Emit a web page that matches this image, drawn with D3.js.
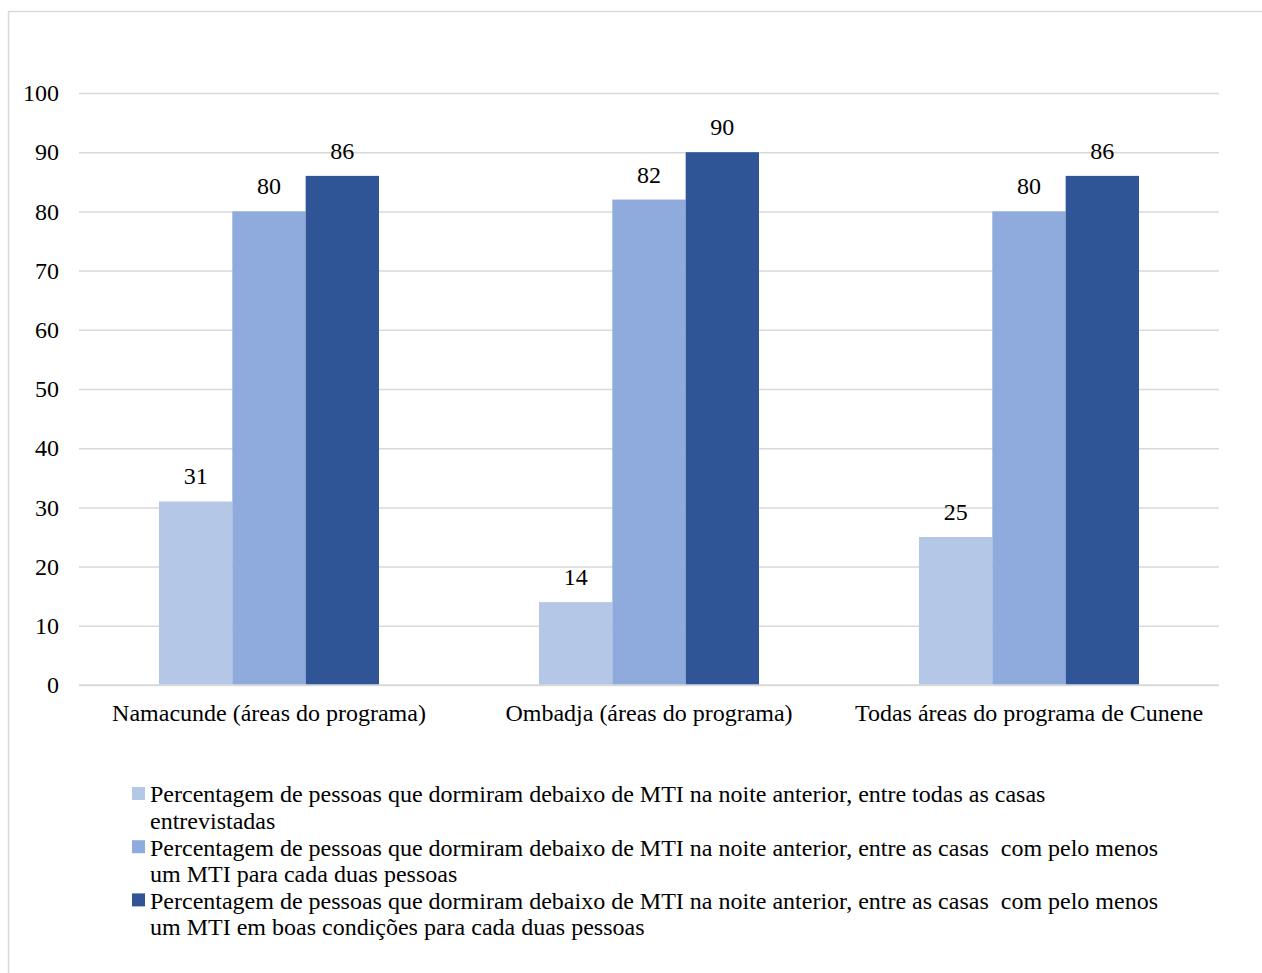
<!DOCTYPE html>
<html>
<head>
<meta charset="utf-8">
<script src="https://cdn.jsdelivr.net/npm/d3@7"></script>
<style>
  html, body { margin: 0; padding: 0; background: #fff; }
  svg { display: block; }
  text { font-family: "Liberation Serif", "Times New Roman", serif; fill: #000; }
</style>
</head>
<body>
<svg id="chart" width="1262" height="973"></svg>
<script>
// Areas (categories) and the three survey indicators
const categories = [
  "Namacunde (áreas do programa)",
  "Ombadja (áreas do programa)",
  "Todas áreas do programa de Cunene"
];
const allHouses = [31, 14, 25];
const onePerTwo = [80, 82, 80];
const goodPerTwo = [86, 90, 86];
const yTicks = [0, 10, 20, 30, 40, 50, 60, 70, 80, 90, 100];
const seriesNames = [
  ["Percentagem de pessoas que dormiram debaixo de MTI na noite anterior, entre todas as casas",
   "entrevistadas"],
  ["Percentagem de pessoas que dormiram debaixo de MTI na noite anterior, entre as casas  com pelo menos",
   "um MTI para cada duas pessoas"],
  ["Percentagem de pessoas que dormiram debaixo de MTI na noite anterior, entre as casas  com pelo menos",
   "um MTI em boas condições para cada duas pessoas"]
];
const colors = ["#b4c7e7", "#8faadc", "#2f5597"];

const series = [allHouses, onePerTwo, goodPerTwo];
const fontSize = 24;
const svg = d3.select("#chart");

// outer chart frame
svg.append("rect")
  .attr("x", 8.5).attr("y", 11.5)
  .attr("width", 1270).attr("height", 980)
  .attr("fill", "none").attr("stroke", "#d9d9d9").attr("stroke-width", 1.5);

const plotLeft = 79, plotRight = 1219, plotTop = 93, plotBottom = 685;

const x0 = d3.scaleBand().domain(categories).range([plotLeft, plotRight]).paddingInner(0).paddingOuter(0);
const x1 = d3.scaleBand().domain(d3.range(series.length))
  .range([80, x0.bandwidth() - 80]);
const y = d3.scaleLinear().domain([0, 100]).range([plotBottom, plotTop]);

// horizontal gridlines + y tick labels
const yAxis = d3.axisLeft(y).tickValues(yTicks).tickSize(-(plotRight - plotLeft)).tickPadding(20);
const gy = svg.append("g").attr("transform", `translate(${plotLeft},0)`).call(yAxis);
gy.select(".domain").remove();
gy.selectAll(".tick line").attr("stroke", "#d9d9d9").attr("stroke-width", 1.5);
gy.selectAll(".tick text")
  .attr("font-family", "Liberation Serif, serif")
  .attr("font-size", fontSize).attr("fill", "#000").attr("x", -20);

// bars
const groups = svg.append("g").selectAll("g")
  .data(categories)
  .join("g")
  .attr("transform", d => `translate(${x0(d)},0)`);

groups.selectAll("rect")
  .data((d, i) => series.map((s, k) => ({ k, v: s[i] })))
  .join("rect")
  .attr("x", d => x1(d.k))
  .attr("width", x1.bandwidth())
  .attr("y", d => y(d.v))
  .attr("height", d => y(0) - y(d.v))
  .attr("fill", d => colors[d.k]);

groups.selectAll("text.val")
  .data((d, i) => series.map((s, k) => ({ k, v: s[i] })))
  .join("text")
  .attr("class", "val")
  .attr("x", d => x1(d.k) + x1.bandwidth() / 2)
  .attr("y", d => y(d.v) - 17)
  .attr("text-anchor", "middle")
  .attr("font-size", fontSize)
  .text(d => d.v);

// baseline
svg.append("line")
  .attr("x1", plotLeft).attr("x2", plotRight)
  .attr("y1", y(0)).attr("y2", y(0))
  .attr("stroke", "#d9d9d9").attr("stroke-width", 1.5);

// category labels
const xAxis = d3.axisBottom(x0).tickSize(0).tickPadding(19);
const gx = svg.append("g").attr("transform", `translate(0,${plotBottom})`).call(xAxis);
gx.select(".domain").remove();
gx.selectAll(".tick text")
  .attr("font-family", "Liberation Serif, serif")
  .attr("font-size", fontSize).attr("fill", "#000");

// legend
const legendTop = 794, lineH = 26.6;
const legend = svg.append("g");
let row = 0;
seriesNames.forEach((lines, k) => {
  const cy = legendTop + row * lineH;
  legend.append("rect")
    .attr("x", 132).attr("y", cy - 7)
    .attr("width", 13).attr("height", 13)
    .attr("fill", colors[k]);
  lines.forEach((t, j) => {
    legend.append("text")
      .attr("x", 150).attr("y", cy + j * lineH)
      .attr("dy", "0.35em")
      .attr("font-size", fontSize)
      .attr("xml:space", "preserve")
      .style("white-space", "pre")
      .text(t);
  });
  row += lines.length;
});
</script>
</body>
</html>
